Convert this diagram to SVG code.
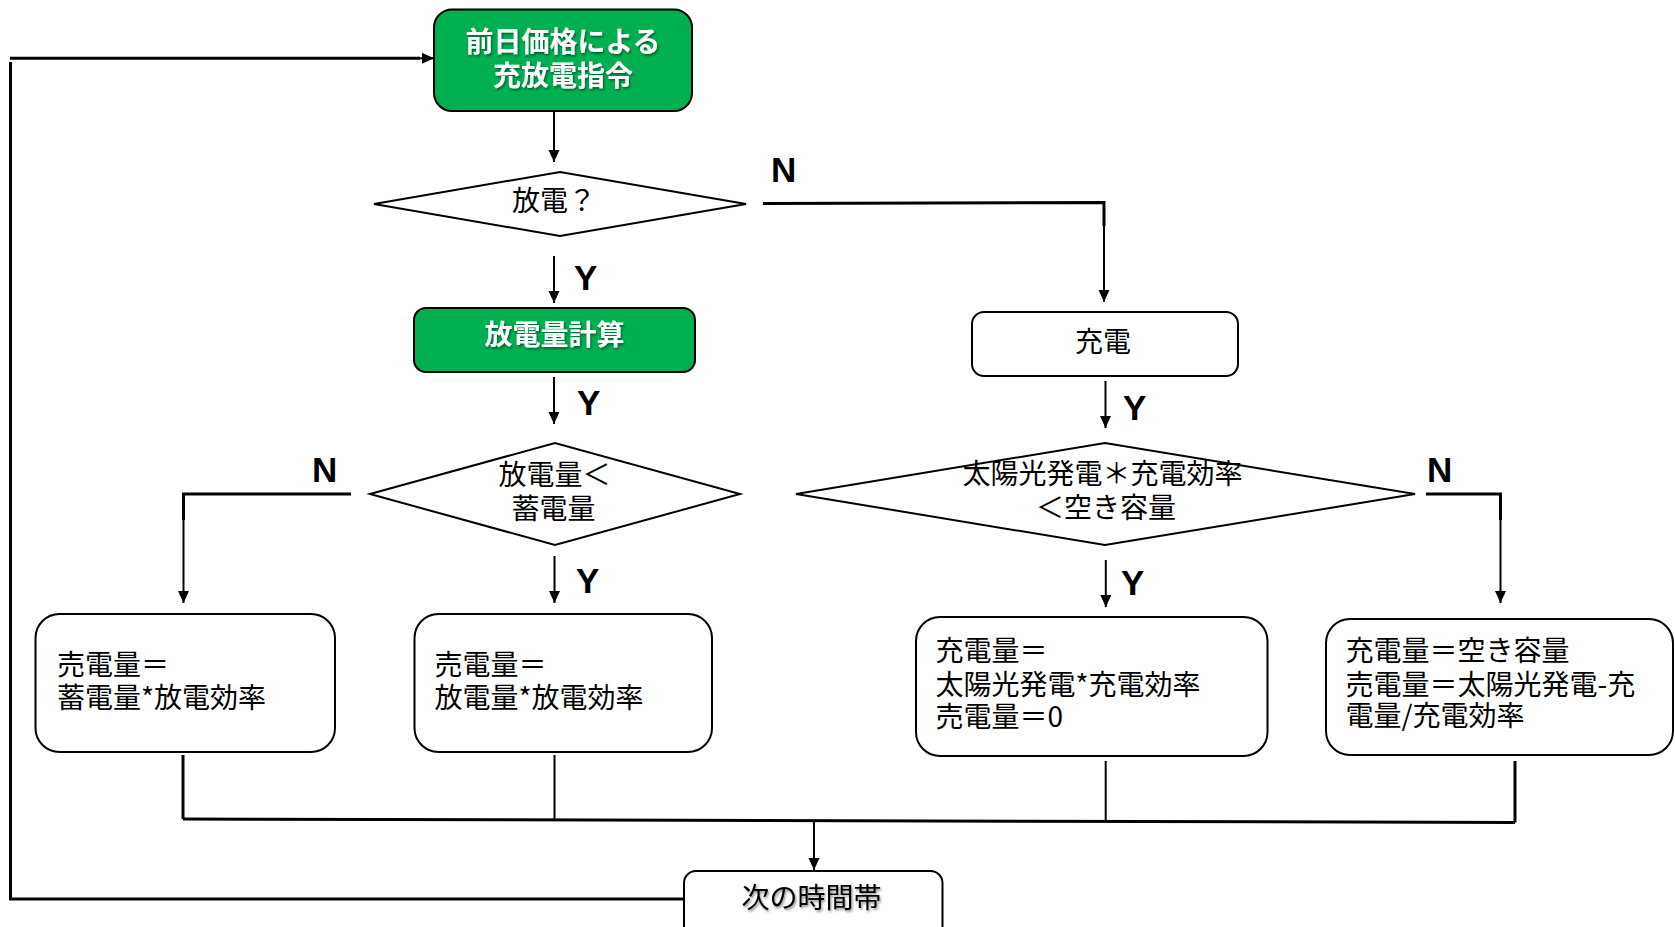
<svg xmlns="http://www.w3.org/2000/svg" width="1675" height="927" viewBox="0 0 1675 927">
<defs>
  <marker id="arr" markerUnits="userSpaceOnUse" markerWidth="12" markerHeight="12" refX="12" refY="5.5" orient="auto">
    <path d="M0,0 L12,5.5 L0,11 z" fill="#000"/>
  </marker>
  <filter id="sh" x="-10%" y="-30%" width="120%" height="160%">
    <feDropShadow dx="1.2" dy="1.8" stdDeviation="1" flood-color="#000" flood-opacity="0.45"/>
  </filter>
  <style>
    .green{fill:#00B050;stroke:#000;stroke-width:2}
    .box{fill:#fff;stroke:#000;stroke-width:2}
    .dia{fill:#fff;stroke:#000;stroke-width:2}
    .t{font-family:"Noto Sans CJK JP","Noto Sans",sans-serif;font-size:28px;fill:#000}
    .tw{font-family:"Noto Sans CJK JP","Noto Sans",sans-serif;font-size:28px;font-weight:bold;fill:#fff}
    .c{text-anchor:middle;dominant-baseline:central}
    .l{dominant-baseline:central}
    .yn{font-family:"Liberation Sans",Arial,sans-serif;font-size:35px;font-weight:bold;fill:#000}
    .ln{fill:none;stroke:#000;stroke-width:2}
    .lt{fill:none;stroke:#000;stroke-width:3}
  </style>
</defs>

<g id="connectors">
  <line class="ln" x1="554" y1="112" x2="554" y2="162" marker-end="url(#arr)"/>
  <line class="ln" x1="554" y1="256" x2="554" y2="303" marker-end="url(#arr)"/>
  <polyline class="lt" points="763,203.5 1104,202.5 1104,226"/>
  <line class="ln" x1="1104" y1="225" x2="1104" y2="302" marker-end="url(#arr)"/>
  <line class="ln" x1="554" y1="377" x2="554" y2="424" marker-end="url(#arr)"/>
  <line class="ln" x1="1105.5" y1="381" x2="1105.5" y2="428" marker-end="url(#arr)"/>
  <polyline class="lt" points="351,494 183.5,494 183.5,520"/>
  <line class="ln" x1="183.5" y1="518" x2="183.5" y2="603" marker-end="url(#arr)"/>
  <line class="ln" x1="554.5" y1="556" x2="554.5" y2="603" marker-end="url(#arr)"/>
  <line class="ln" x1="1105.8" y1="560" x2="1105.8" y2="607" marker-end="url(#arr)"/>
  <polyline class="lt" points="1426,494 1500.5,494 1500.5,520"/>
  <line class="ln" x1="1500.5" y1="518" x2="1500.5" y2="603" marker-end="url(#arr)"/>
  <line class="lt" x1="183" y1="755" x2="183" y2="819"/>
  <line class="ln" x1="554.5" y1="755" x2="554.5" y2="819"/>
  <line class="ln" x1="1105.7" y1="761" x2="1105.7" y2="821"/>
  <line class="lt" x1="1515" y1="761" x2="1515" y2="822.5"/>
  <line class="lt" x1="183" y1="819" x2="1515" y2="822.5"/>
  <line class="ln" x1="814" y1="820.5" x2="814" y2="870" marker-end="url(#arr)"/>
  <polyline class="lt" points="684,899 10.5,899 10.5,62"/>
  <line class="lt" x1="10" y1="58.3" x2="420" y2="58.3"/>
  <line class="ln" x1="418" y1="58.3" x2="434" y2="58.3" marker-end="url(#arr)"/>
  <text class="yn" x="771" y="182">N</text>
  <text class="yn" x="574" y="290">Y</text>
  <text class="yn" x="577" y="415">Y</text>
  <text class="yn" x="1123" y="420">Y</text>
  <text class="yn" x="312" y="482">N</text>
  <text class="yn" x="1427" y="482">N</text>
  <text class="yn" x="576" y="593">Y</text>
  <text class="yn" x="1121" y="595">Y</text>
</g>

<g id="node-start">
  <rect class="green" x="434" y="9.5" width="258" height="101.5" rx="18"/>
  <text class="tw c" filter="url(#sh)"><tspan x="563" y="40">前日価格による</tspan><tspan x="563" y="74">充放電指令</tspan></text>
</g>

<g id="node-discharge-q">
  <polygon class="dia" points="374,204 560,172 746,204 560,236"/>
  <text class="t c" x="554" y="199">放電？</text>
</g>

<g id="node-discharge-calc">
  <rect class="green" x="414" y="308" width="281" height="64" rx="12"/>
  <text class="tw c" x="554.5" y="333" filter="url(#sh)">放電量計算</text>
</g>

<g id="node-charge">
  <rect class="box" x="972" y="312" width="266" height="64" rx="12"/>
  <text class="t c" x="1103" y="340">充電</text>
</g>

<g id="node-discharge-cmp">
  <polygon class="dia" points="370,494 555,443 740,494 555,545"/>
  <text class="t c"><tspan x="554.5" y="473">放電量＜</tspan><tspan x="553.5" y="507">蓄電量</tspan></text>
</g>

<g id="node-charge-cmp">
  <polygon class="dia" points="796,494 1105,443 1415,494 1105,545"/>
  <text class="t c"><tspan x="1102.5" y="472">太陽光発電＊充電効率</tspan><tspan x="1106" y="506">＜空き容量</tspan></text>
</g>

<g id="node-sell-storage">
  <rect class="box" x="35.5" y="614" width="299.5" height="138" rx="24"/>
  <text class="t l"><tspan x="57" y="663">売電量＝</tspan><tspan x="57" y="696">蓄電量*放電効率</tspan></text>
</g>

<g id="node-sell-discharge">
  <rect class="box" x="414.5" y="614" width="297.5" height="138" rx="24"/>
  <text class="t l"><tspan x="434.5" y="663">売電量＝</tspan><tspan x="434.5" y="696">放電量*放電効率</tspan></text>
</g>

<g id="node-charge-solar">
  <rect class="box" x="916" y="617" width="351.5" height="139" rx="24"/>
  <text class="t l"><tspan x="935.5" y="649">充電量＝</tspan><tspan x="935.5" y="683">太陽光発電*充電効率</tspan><tspan x="935.5" y="715">売電量＝0</tspan></text>
</g>

<g id="node-charge-full">
  <rect class="box" x="1326" y="619" width="347" height="136" rx="24"/>
  <text class="t l"><tspan x="1345.5" y="649">充電量＝空き容量</tspan><tspan x="1345.5" y="683">売電量＝太陽光発電-充</tspan><tspan x="1345.5" y="714">電量/充電効率</tspan></text>
</g>

<g id="node-next">
  <rect class="box" x="684" y="871" width="258.5" height="70" rx="12"/>
  <text class="t c" x="811.5" y="896" filter="url(#sh)">次の時間帯</text>
</g>
</svg>
